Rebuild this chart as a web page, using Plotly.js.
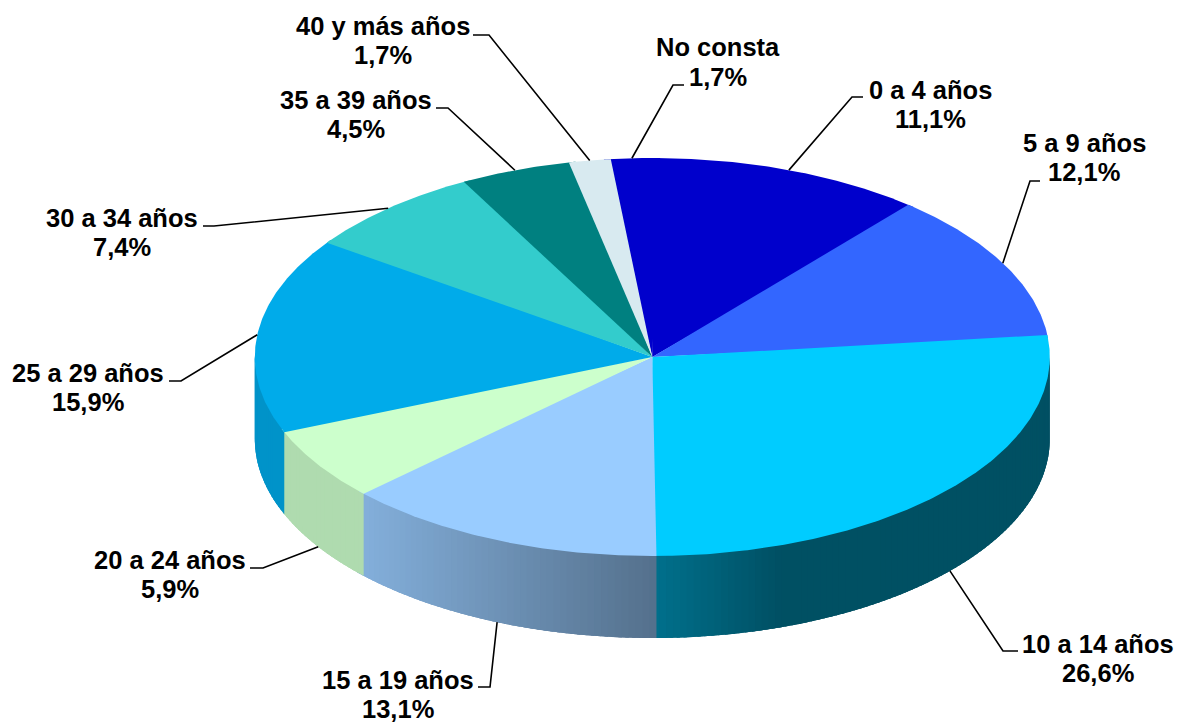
<!DOCTYPE html>
<html><head><meta charset="utf-8">
<script src="https://cdn.plot.ly/plotly-3.0.1.min.js"></script>
<style>html,body{margin:0;padding:0;background:#fff}#c{width:1184px;height:722px}</style>
</head><body><div id="c"></div>
<script>
// Data, clockwise from the first drawn slice
const categories = ["No consta","0 a 4 años","5 a 9 años","10 a 14 años","15 a 19 años","20 a 24 años","25 a 29 años","30 a 34 años","35 a 39 años","40 y más años"];
const shares = [1.7,11.1,12.1,26.6,13.1,5.9,15.9,7.4,4.5,1.7];
const sliceColors = ["#0000CC","#0000CC","#3366FF","#00CCFF","#99CCFF","#CCFFCC","#00ABEA","#33CCCC","#008080","#D8EAF0"];

// Pie geometry
const cx = 652.3, cy = 357, rx = 397.5, ry = 199, depth = 82, startAngle = 96;
// Label placement: [centre x, first-line y, second-line y], leader [end x, elbow x, elbow y]
const labelPos = [[718,47,77],[930,89.5,118.5],[1084,142.5,171.5],[1098,643.5,672.5],[398,679.5,708.5],[170,559.5,588.5],[88,372.5,401.5],[122,217.5,246.5],[356,99.5,128.5],[382.5,25.5,54.5]];
const leaderPos = [[684,673,85],[863,852,97],[1040,1030,181],[1018,1003,651],[478,490,687],[250,263,568],[169,181,381],[203,214,226],[436,448,108],[473,489,35]];

const rad = d => d*Math.PI/180;
const px = a => cx + rx*Math.cos(rad(a));
const py = a => cy - ry*Math.sin(rad(a));
function hexRgb(h){return [1,3,5].map(i=>parseInt(h.substr(i,2),16));}
function shade(x){
  const pts=[[362,0.86],[655,0.55],[780,0.39]];
  if(x<=pts[0][0]) return pts[0][1];
  if(x>=pts[2][0]) return pts[2][1];
  for(let i=0;i<2;i++){ if(x<=pts[i+1][0]){const t=(x-pts[i][0])/(pts[i+1][0]-pts[i][0]);return pts[i][1]+t*(pts[i+1][1]-pts[i][1]);}}
}
function sideColor(hex,x){const s=shade(x);const c=hexRgb(hex).map(v=>Math.round(v*s));return `rgb(${c[0]},${c[1]},${c[2]})`;}

const total = shares.reduce((a,b)=>a+b,0);
const traces=[], annotations=[];
let ang = startAngle;
const spans = shares.map(v=>{const a0=ang;const a1=ang-v/total*360;ang=a1;return [a0,a1];});

// Side wall: only the front half is visible; each strip runs under the next so no seams show
spans.forEach((sp,i)=>{
  const hi=Math.min(sp[0],0), lo=Math.max(sp[1],-180);
  for(let a=hi;a>lo;a-=1){
    const b=Math.max(a-1,lo), b2=Math.max(b-1.5,-180);
    const col=sideColor(sliceColors[i],(px(a)+px(b))/2);
    traces.push({type:'scatter',mode:'lines',fill:'toself',fillcolor:col,
      line:{width:0},hoverinfo:'skip',
      x:[px(a),px(b2),px(b2),px(a),px(a)],
      y:[py(a)-3,py(b2)-3,py(b2)+depth,py(a)+depth,py(a)-3]});
  }
});
// Top face, each slice running slightly under the one painted after it
spans.forEach((sp,i)=>{
  const from=i===0?sp[0]+1:sp[0], to=i===spans.length-1?sp[1]:sp[1]-1;
  const xs=[cx],ys=[cy];
  for(let a=from;a>to;a-=0.5){xs.push(px(a));ys.push(py(a));}
  xs.push(px(to),cx);ys.push(py(to),cy);
  traces.push({type:'scatter',mode:'lines',fill:'toself',fillcolor:sliceColors[i],
    line:{width:0},name:categories[i],text:categories[i],hoverinfo:'text',x:xs,y:ys});
});
// Leaders and labels
const font={family:'"Liberation Sans",Arial,sans-serif',size:25.5,color:'#000'};
spans.forEach((sp,i)=>{
  const m=(sp[0]+sp[1])/2, ax=px(m), ay=py(m)+(Math.sin(rad(m))<0?depth:0);
  const l=leaderPos[i];
  traces.push({type:'scatter',mode:'lines',line:{color:'#000',width:1.6},hoverinfo:'skip',
    x:[ax,l[1],l[0]],y:[ay,l[2],l[2]]});
  const p=labelPos[i];
  annotations.push({xref:'x',yref:'y',x:p[0],y:p[1],text:'<b>'+categories[i]+'</b>',showarrow:false,font:font,xanchor:'center',yanchor:'middle'});
  annotations.push({xref:'x',yref:'y',x:p[0],y:p[2],text:'<b>'+shares[i].toFixed(1).replace('.',',')+'%</b>',showarrow:false,font:font,xanchor:'center',yanchor:'middle'});
});
const hidden={visible:false,fixedrange:true};
Plotly.newPlot('c',traces,{
  width:1184,height:722,margin:{l:0,r:0,t:0,b:0},showlegend:false,
  paper_bgcolor:'#fff',plot_bgcolor:'#fff',
  xaxis:Object.assign({range:[0,1184]},hidden),
  yaxis:Object.assign({range:[722,0]},hidden),
  annotations:annotations
},{displayModeBar:false});
</script></body></html>
